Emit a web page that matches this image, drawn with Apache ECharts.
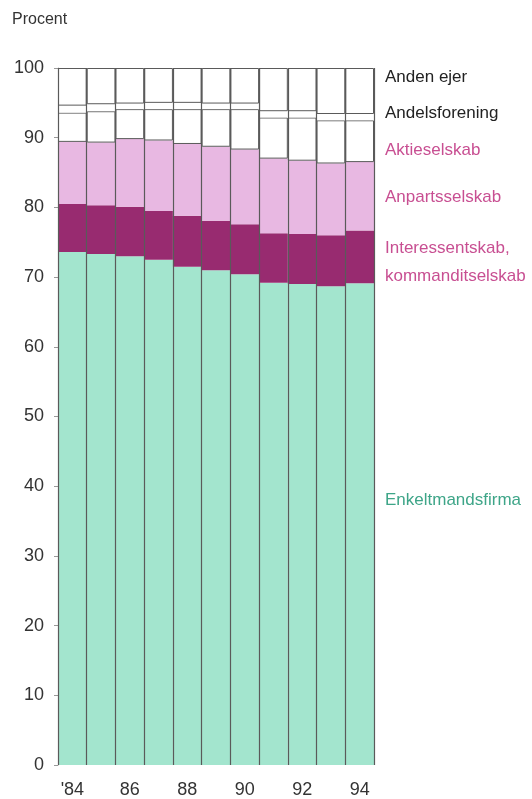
<!DOCTYPE html>
<html><head><meta charset="utf-8">
<script src="https://cdn.jsdelivr.net/npm/echarts@6/dist/echarts.min.js"></script>
<style>html,body{margin:0;padding:0;background:#fff}#c{width:532px;height:799px}</style>
</head><body><div id="c"></div>
<script>
const years = ["'84","85","86","87","88","89","90","91","92","93","94"];
const enkeltmandsfirma = [73.6, 73.3, 73.0, 72.5, 71.5, 71.0, 70.4, 69.2, 69.0, 68.7, 69.1];
const interessentskab = [6.9, 7.0, 7.1, 7.0, 7.3, 7.1, 7.2, 7.1, 7.2, 7.3, 7.6];
const anpartsselskab = [8.9, 9.0, 9.7, 10.1, 10.3, 10.6, 10.7, 10.7, 10.5, 10.3, 9.8];
const aktieselskab = [4.2, 4.5, 4.3, 4.5, 5.0, 5.4, 5.8, 5.9, 6.2, 6.2, 6.0];
const andelsforening = [1.0, 1.0, 0.8, 0.9, 0.9, 0.8, 0.8, 0.9, 0.9, 0.9, 0.9];
const andenEjer = [5.4, 5.2, 5.1, 5.0, 5.0, 5.1, 5.1, 6.2, 6.2, 6.6, 6.6];
const yTicks = [0, 10, 20, 30, 40, 50, 60, 70, 80, 90, 100];

const font = '"Liberation Sans", Arial, sans-serif';
const lineCol = '#5a5a5a';
function s(name, data, color, border) {
  return {
    name, type: 'bar', stack: 'all', data, barWidth: '100%', barCategoryGap: 0,
    itemStyle: { color, borderColor: border ? lineCol : color, borderWidth: border ? 1 : 0 },
    emphasis: { disabled: true }, animation: false
  };
}
const chart = echarts.init(document.getElementById('c'), null, { renderer: 'canvas' });
const lbl = (text, y, color) => ({
  type: 'text', left: 385, top: y - 8,
  style: { text, fill: color, font: '17px ' + font }
});
chart.setOption({
  animation: false,
  grid: { left: 58, right: 158, top: 68, bottom: 34, containLabel: false },
  xAxis: {
    type: 'category', data: years, boundaryGap: true, z: 10,
    axisLine: { show: false }, axisTick: { show: false },
    splitLine: { show: true, interval: 0, lineStyle: { color: lineCol, width: 1.2 } },
    axisLabel: { interval: 1, color: '#333', fontSize: 18, fontFamily: font, margin: 16 }
  },
  yAxis: {
    type: 'value', min: yTicks[0], max: yTicks[yTicks.length - 1], interval: 10,
    axisLine: { show: true, lineStyle: { color: '#aaa' } },
    axisTick: { show: true, length: 4, lineStyle: { color: '#999' } },
    splitLine: { show: false },
    axisLabel: { color: '#333', fontSize: 18, fontFamily: font, margin: 14 }
  },
  series: [
    s('Enkeltmandsfirma', enkeltmandsfirma, '#a3e5ce', false),
    s('Interessentskab, kommanditselskab', interessentskab, '#982b70', false),
    s('Anpartsselskab', anpartsselskab, '#e8b8e2', false),
    s('Aktieselskab', aktieselskab, '#ffffff', true),
    s('Andelsforening', andelsforening, '#ffffff', false),
    s('Anden ejer', andenEjer, '#ffffff', true)
  ],
  graphic: [
    { type: 'text', left: 12, top: 12, style: { text: 'Procent', fill: '#333', font: '16px ' + font } },
    lbl('Anden ejer', 77, '#222'),
    lbl('Andelsforening', 113, '#222'),
    lbl('Aktieselskab', 150, '#c84f92'),
    lbl('Anpartsselskab', 197, '#c84f92'),
    lbl('Interessentskab,', 248, '#c84f92'),
    lbl('kommanditselskab', 276, '#c84f92'),
    lbl('Enkeltmandsfirma', 500, '#3ea588')
  ]
});
</script></body></html>
